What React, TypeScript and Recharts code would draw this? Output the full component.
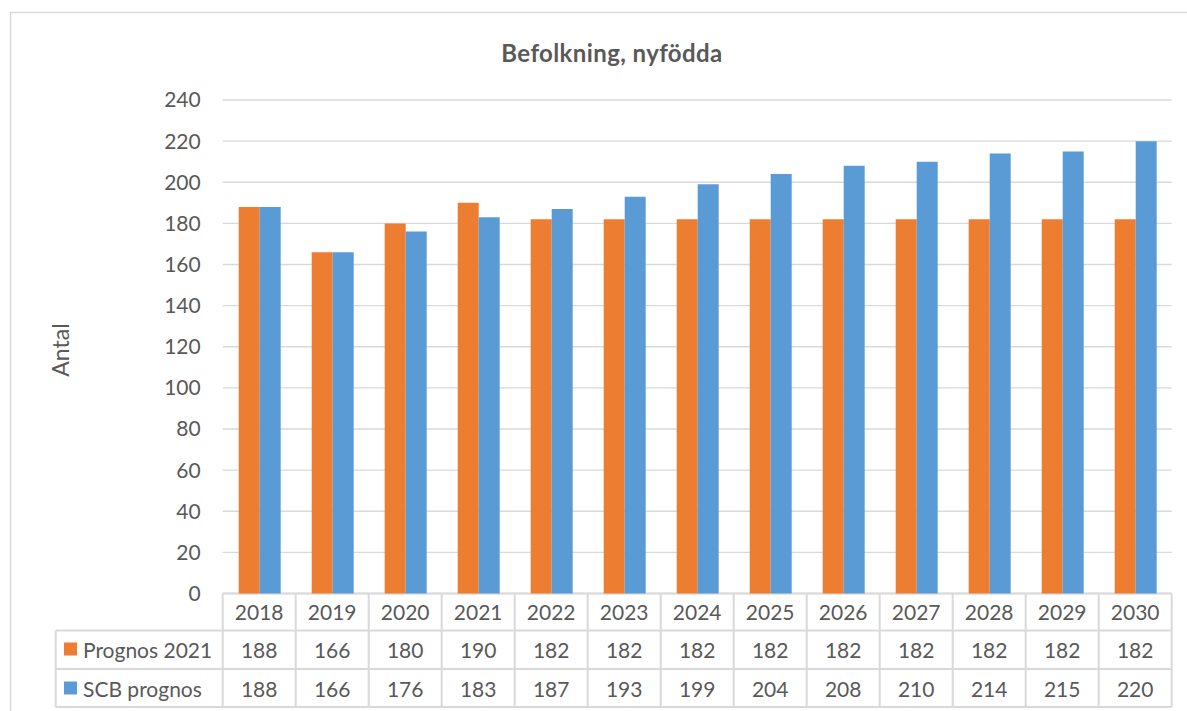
import React from 'react';
import { BarChart, Bar, XAxis, YAxis, CartesianGrid, Customized } from 'recharts';

const years = ['2018', '2019', '2020', '2021', '2022', '2023', '2024', '2025', '2026', '2027', '2028', '2029', '2030'];
const prognos2021 = [188, 166, 180, 190, 182, 182, 182, 182, 182, 182, 182, 182, 182];
const scbPrognos = [188, 166, 176, 183, 187, 193, 199, 204, 208, 210, 214, 215, 220];
const yTicks = [0, 20, 40, 60, 80, 100, 120, 140, 160, 180, 200, 220, 240];
const seriesNames = ['Prognos 2021', 'SCB prognos'];
const title = 'Befolkning, nyfödda';
const yLabel = 'Antal';

const data = years.map((y, i) => ({ year: y, p: prognos2021[i], s: scbPrognos[i] }));

const W = 1187;
const H = 711;
const PLOT_LEFT = 222.7;
const PLOT_RIGHT = 1171.7;
const PLOT_TOP = 100;
const PLOT_BOTTOM = 593.5;
const BAND = (PLOT_RIGHT - PLOT_LEFT) / years.length;
const TABLE_LEFT = 55.7;
const ROW_LINES = [630.5, 669, 707];
const ROW_Y = [611.7, 649, 688];
const ORANGE = '#ED7D31';
const BLUE = '#5B9BD5';
const TEXT = '#595959';
const GRID = '#d9d9d9';
const FONT = 'Lato, "Open Sans", sans-serif';
const FS = 21;

const TableTick = (props: any) => {
  const { x, index } = props;
  const half = BAND / 2;
  return (
    <g>
      <text x={x} y={ROW_Y[0]} textAnchor="middle" dominantBaseline="central" fill={TEXT} fontSize={FS} fontFamily={FONT}>
        {years[index]}
      </text>
      <text x={x} y={ROW_Y[1]} textAnchor="middle" dominantBaseline="central" fill={TEXT} fontSize={FS} fontFamily={FONT}>
        {prognos2021[index]}
      </text>
      <text x={x} y={ROW_Y[2]} textAnchor="middle" dominantBaseline="central" fill={TEXT} fontSize={FS} fontFamily={FONT}>
        {scbPrognos[index]}
      </text>
      <line x1={x + half} x2={x + half} y1={PLOT_BOTTOM} y2={ROW_LINES[2]} stroke={GRID} strokeWidth={2} />
    </g>
  );
};

const Decorations = () => (
  <g>
    <path d={`M10.5,${H} V12.5 H${W}`} fill="none" stroke={GRID} strokeWidth={1.5} />
    <text x={612} y={52} textAnchor="middle" dominantBaseline="central" fill={TEXT} fontSize={24} fontWeight="bold" fontFamily={FONT} letterSpacing={0.4}>
      {title}
    </text>
    <text
      x={60}
      y={350}
      textAnchor="middle"
      dominantBaseline="central"
      fill={TEXT}
      fontSize={23}
      fontFamily={FONT}
      transform="rotate(-90 60 350)"
    >
      {yLabel}
    </text>
    {ROW_LINES.map((ly) => (
      <line key={ly} x1={TABLE_LEFT} x2={PLOT_RIGHT} y1={ly} y2={ly} stroke={GRID} strokeWidth={2} />
    ))}
    <line x1={TABLE_LEFT} x2={TABLE_LEFT} y1={ROW_LINES[0]} y2={ROW_LINES[2]} stroke={GRID} strokeWidth={2} />
    <line x1={PLOT_LEFT} x2={PLOT_LEFT} y1={PLOT_BOTTOM} y2={ROW_LINES[2]} stroke={GRID} strokeWidth={2} />
    <line x1={PLOT_LEFT} x2={PLOT_RIGHT} y1={PLOT_BOTTOM} y2={PLOT_BOTTOM} stroke={GRID} strokeWidth={2} />
    {[ORANGE, BLUE].map((c, i) => (
      <g key={c}>
        <rect x={64} y={ROW_Y[i + 1] - 6.5} width={13} height={13} fill={c} />
        <text x={83} y={ROW_Y[i + 1]} dominantBaseline="central" fill={TEXT} fontSize={FS} fontFamily={FONT}>
          {seriesNames[i]}
        </text>
      </g>
    ))}
  </g>
);

export default function App() {
  return (
    <div style={{ position: 'absolute', left: 0, top: 0, width: W, height: H, background: '#fff' }}>
      <BarChart
        width={W}
        height={H}
        data={data}
        margin={{ top: PLOT_TOP, right: W - PLOT_RIGHT, bottom: 0, left: PLOT_LEFT - 60 }}
        barGap={0}
        style={{ fontFamily: FONT }}
      >
        <CartesianGrid horizontal vertical={false} stroke={GRID} strokeWidth={1.3} />
        <XAxis
          dataKey="year"
          type="category"
          interval={0}
          tickLine={false}
          axisLine={false}
          height={H - PLOT_BOTTOM}
          tick={<TableTick />}
        />
        <YAxis
          type="number"
          domain={[0, 240]}
          ticks={yTicks}
          width={60}
          axisLine={false}
          tickLine={false}
          tickSize={0}
          tickMargin={22}
          tick={{ fill: TEXT, fontSize: FS, fontFamily: FONT }}
        />
        <Bar dataKey="p" name={seriesNames[0]} fill={ORANGE} barSize={21} isAnimationActive={false} />
        <Bar dataKey="s" name={seriesNames[1]} fill={BLUE} barSize={21} isAnimationActive={false} />
        <Customized component={Decorations} />
      </BarChart>
    </div>
  );
}
